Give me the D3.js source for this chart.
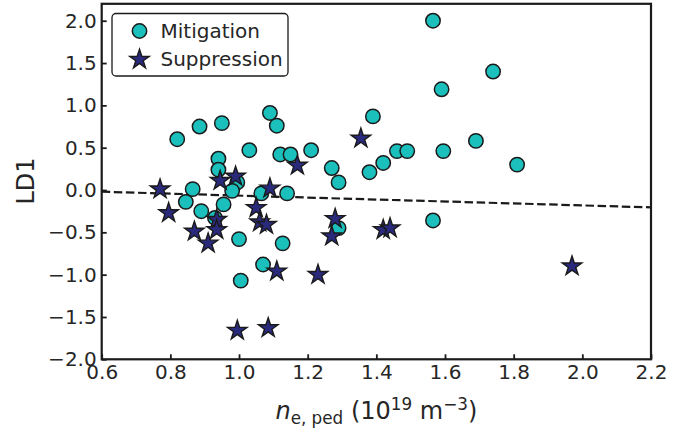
<!DOCTYPE html>
<html>
<head>
<meta charset="utf-8">
<script src="https://cdn.jsdelivr.net/npm/d3@7"></script>
<style>
  body { margin: 0; background: #fff; }
  svg text { font-family: "DejaVu Sans", sans-serif; fill: #262626; }
</style>
</head>
<body>
<script>
// mitigation shots (circles)
var mitX = [0.82, 0.885, 0.95, 1.09, 1.11, 1.03, 1.12, 1.15, 1.21, 1.27, 1.29, 1.39, 1.38, 1.42,
            1.46, 1.49, 1.565, 1.74, 1.59, 1.595, 1.69, 1.81, 1.565, 0.94, 0.94, 0.995, 0.865,
            0.98, 0.845, 0.89, 0.955, 0.93, 1.065, 1.14, 1.29, 1.0, 1.127, 1.07, 1.005];
var mitY = [0.60, 0.75, 0.79, 0.91, 0.76, 0.47, 0.42, 0.42, 0.47, 0.26, 0.09, 0.87, 0.21, 0.32,
            0.46, 0.46, 2.0, 1.40, 1.19, 0.46, 0.58, 0.30, -0.36, 0.37, 0.24, 0.09, 0.01,
            -0.01, -0.14, -0.25, -0.17, -0.33, -0.04, -0.04, -0.45, -0.58, -0.63, -0.88, -1.07];
// suppression shots (stars)
var supX = [0.77, 0.795, 0.87, 0.91, 0.935, 0.935, 0.945, 0.99, 1.05, 1.06, 1.08, 1.09, 1.17,
            1.11, 1.23, 1.28, 1.27, 0.995, 1.085, 1.42, 1.44, 1.97, 1.355];
var supY = [0.01, -0.27, -0.49, -0.63, -0.35, -0.47, 0.11, 0.16, -0.21, -0.38, -0.41, 0.02, 0.29,
            -0.96, -1.0, -0.34, -0.545, -1.66, -1.63, -0.47, -0.45, -0.90, 0.61];
// dashed fit line end points
var fitX = [0.6, 2.2];
var fitY = [-0.02, -0.205];

var xTicks = [0.6, 0.8, 1.0, 1.2, 1.4, 1.6, 1.8, 2.0, 2.2];
var yTicks = [-2.0, -1.5, -1.0, -0.5, 0.0, 0.5, 1.0, 1.5, 2.0];

var W = 681, H = 429;
var margin = {top: 3.8, left: 101.7, right: 30, bottom: 69.7};
var width = W - margin.left - margin.right,
    height = H - margin.top - margin.bottom;

var svg = d3.select('body').append('svg')
    .attr('width', W).attr('height', H);
var g = svg.append('g')
    .attr('transform', 'translate(' + margin.left + ',' + margin.top + ')');

var x = d3.scaleLinear().domain([0.6, 2.2]).range([0, width]);
var y = d3.scaleLinear().domain([-2.0, 2.2]).range([height, 0]);

var mit = mitX.map(function(d, i) { return {x: d, y: mitY[i]}; });
var sup = supX.map(function(d, i) { return {x: d, y: supY[i]}; });

// axes, ticks pointing inward
var xAxis = g.append('g')
    .attr('transform', 'translate(0,' + height + ')')
    .call(d3.axisBottom(x).tickValues(xTicks).tickFormat(d3.format('.1f'))
        .tickSizeInner(-5).tickSizeOuter(0).tickPadding(6));
var yAxis = g.append('g')
    .call(d3.axisLeft(y).tickValues(yTicks).tickFormat(d3.format('.1f'))
        .tickSizeInner(-5).tickSizeOuter(0).tickPadding(5));
[xAxis, yAxis].forEach(function(a) {
    a.select('.domain').remove();
    a.selectAll('line').attr('stroke', '#1a1a1a').attr('stroke-width', 1.8);
    a.selectAll('text').style('font-size', '20px').attr('fill', '#262626');
});

// fit line
g.append('path')
    .datum(fitX.map(function(d, i) { return [d, fitY[i]]; }))
    .attr('d', d3.line().x(function(d) { return x(d[0]); }).y(function(d) { return y(d[1]); }))
    .attr('fill', 'none')
    .attr('stroke', '#1a1a1a')
    .attr('stroke-width', 2.2)
    .attr('stroke-dasharray', '8.5,3.6');

var plot = g.append('g');
plot.selectAll('circle.mit')
    .data(mit).enter()
    .append('circle')
    .attr('class', 'mit')
    .attr('cx', function(d) { return x(d.x); })
    .attr('cy', function(d) { return y(d.y); })
    .attr('r', 7.2)
    .attr('fill', '#1bbfbc')
    .attr('stroke', '#1a1a1a')
    .attr('stroke-width', 1.5);

var star = d3.symbol().type(d3.symbolStar).size(118);
plot.selectAll('path.sup')
    .data(sup).enter()
    .append('path')
    .attr('class', 'sup')
    .attr('d', star)
    .attr('transform', function(d) { return 'translate(' + x(d.x) + ',' + y(d.y) + ')'; })
    .attr('fill', '#2a2a7c')
    .attr('stroke', '#1a1a1a')
    .attr('stroke-width', 1.4)
    .attr('stroke-linejoin', 'miter');

// frame
g.append('rect')
    .attr('width', width).attr('height', height)
    .attr('fill', 'none')
    .attr('stroke', '#1a1a1a')
    .attr('stroke-width', 2.2);

// legend
var lg = g.append('g').attr('transform', 'translate(' + (112 - margin.left) + ',' + (13.5 - margin.top) + ')');
lg.append('rect')
    .attr('width', 176).attr('height', 62.5)
    .attr('rx', 4).attr('ry', 4)
    .attr('fill', 'rgba(255,255,255,0.85)')
    .attr('stroke', '#1a1a1a')
    .attr('stroke-width', 1.3);
lg.append('circle')
    .attr('cx', 27.5).attr('cy', 17.5).attr('r', 7.2)
    .attr('fill', '#1bbfbc').attr('stroke', '#1a1a1a').attr('stroke-width', 1.5);
lg.append('path')
    .attr('d', star)
    .attr('transform', 'translate(27.5,46)')
    .attr('fill', '#2a2a7c').attr('stroke', '#1a1a1a').attr('stroke-width', 1.4);
lg.append('text').attr('x', 48.5).attr('y', 24.5).style('font-size', '20px').text('Mitigation');
lg.append('text').attr('x', 48.5).attr('y', 52.5).style('font-size', '20px').text('Suppression');

// axis labels
svg.append('text')
    .attr('transform', 'translate(33.5,181) rotate(-90)')
    .attr('text-anchor', 'middle')
    .style('font-size', '24px')
    .text('LD1');

var xl = svg.append('text')
    .attr('x', margin.left + width / 2)
    .attr('y', 419)
    .attr('text-anchor', 'middle')
    .style('font-size', '24px');
xl.append('tspan').style('font-style', 'italic').text('n');
xl.append('tspan').attr('dy', 4.5).style('font-size', '16.8px').text('e, ped');
xl.append('tspan').attr('dy', -4.5).text(' (10');
xl.append('tspan').attr('dy', -9).style('font-size', '16.8px').text('19');
xl.append('tspan').attr('dy', 9).text(' m');
xl.append('tspan').attr('dy', -9).style('font-size', '16.8px').text('\u22123');
xl.append('tspan').attr('dy', 9).text(')');
</script>
</body>
</html>
